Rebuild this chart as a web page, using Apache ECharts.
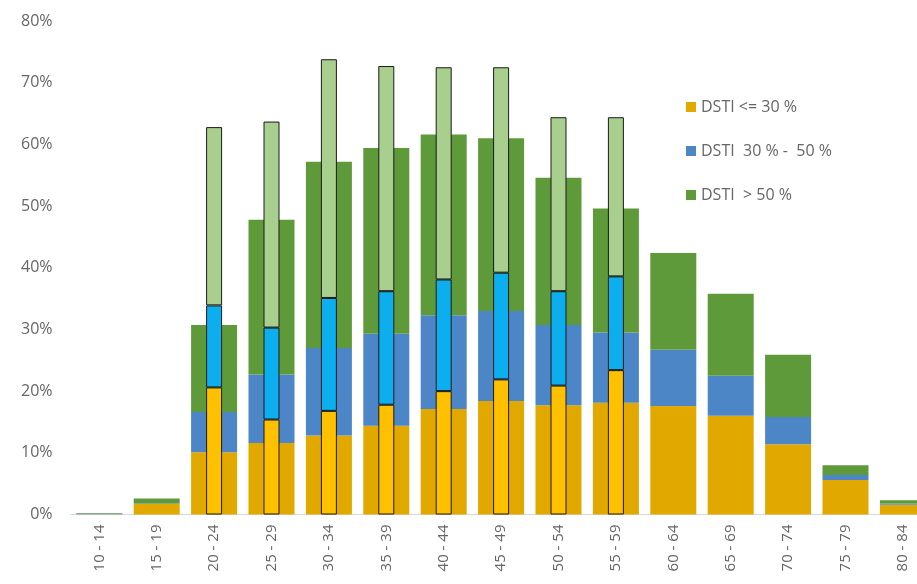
<!DOCTYPE html>
<html>
<head>
<meta charset="utf-8">
<script src="https://cdn.jsdelivr.net/npm/echarts@6/dist/echarts.min.js"></script>
<style>
  html, body { margin: 0; padding: 0; background: #ffffff; }
  #chart { width: 917px; height: 584px; }
</style>
</head>
<body>
<div id="chart"></div>
<script>
// Age groups on the category axis
const ageGroups = ['10 - 14', '15 - 19', '20 - 24', '25 - 29', '30 - 34', '35 - 39', '40 - 44',
  '45 - 49', '50 - 54', '55 - 59', '60 - 64', '65 - 69', '70 - 74', '75 - 79', '80 - 84'];

// Wide stacked bars (share of borrowers, %)
const dstiLow  = [0.05, 1.7, 10.1, 11.6, 12.8, 14.4, 17.1, 18.4, 17.7, 18.1, 17.6, 16.0, 11.4, 5.6, 1.6];
const dstiMid  = [0.1, 0.1, 6.5, 11.1, 14.2, 14.9, 15.2, 14.6, 13.0, 11.4, 9.1, 6.5, 4.4, 0.8, 0.2];
const dstiHigh = [0.1, 0.8, 14.1, 25.1, 30.2, 30.1, 29.3, 28.0, 23.9, 20.1, 15.7, 13.3, 10.1, 1.6, 0.5];

// Narrow outlined bars, 20 - 24 to 55 - 59 only
const narrowLow  = [null, null, 20.6, 15.4, 16.8, 17.8, 20.0, 21.9, 20.9, 23.4, null, null, null, null, null];
const narrowMid  = [null, null, 13.3, 14.9, 18.3, 18.4, 18.1, 17.3, 15.3, 15.2, null, null, null, null, null];
const narrowHigh = [null, null, 28.9, 33.4, 38.7, 36.5, 34.4, 33.3, 28.2, 25.8, null, null, null, null, null];

// Y axis ticks
const yTicks = { min: 0, max: 80, step: 10 };

const legendNames = ['DSTI <= 30 %', 'DSTI  30 % -  50 %', 'DSTI  > 50 %'];

const textColor = '#666666';
const fontFamily = '"Open Sans", "DejaVu Sans", sans-serif';

const wideColors = ['#E1A800', '#4C86C6', '#5F9A3A'];
const narrowColors = ['#FFC000', '#0CAEEE', '#A8CF8D'];

function wideSeries(name, data, color) {
  return {
    name: name, type: 'bar', stack: 'wide', xAxisIndex: 0,
    barWidth: 46, data: data,
    itemStyle: { color: color },
    emphasis: { disabled: true }
  };
}

function narrowSeries(name, data, color) {
  return {
    name: name, type: 'bar', stack: 'narrow', xAxisIndex: 1,
    barWidth: 16, data: data, z: 3,
    itemStyle: { color: color, borderColor: '#1a1a1a', borderWidth: 1 },
    emphasis: { disabled: true }
  };
}

const chart = echarts.init(document.getElementById('chart'), null, { renderer: 'canvas' });

chart.setOption({
  animation: false,
  backgroundColor: '#ffffff',
  textStyle: { fontFamily: fontFamily },
  // the last age group runs past the right edge of the canvas
  grid: { left: 70.6, top: 21, width: 861, height: 493.5, containLabel: false, outerBoundsMode: 'none' },
  legend: {
    data: legendNames,
    orient: 'vertical',
    left: 681,
    top: 94,
    itemWidth: 10,
    itemHeight: 10,
    itemGap: 28,
    icon: 'rect',
    selectedMode: false,
    textStyle: { color: textColor, fontSize: 16, lineHeight: 16, fontFamily: fontFamily, padding: [0, 0, 0, 0] }
  },
  xAxis: [
    {
      type: 'category',
      data: ageGroups,
      axisLine: { show: true, lineStyle: { color: '#D9D9D9', width: 1 } },
      axisTick: { show: false },
      axisLabel: { rotate: 90, margin: 10, color: textColor, fontSize: 15, fontFamily: fontFamily, interval: 0 },
      splitLine: { show: false }
    },
    {
      type: 'category',
      data: ageGroups,
      show: false,
      position: 'bottom'
    }
  ],
  yAxis: {
    type: 'value',
    min: yTicks.min,
    max: yTicks.max,
    interval: yTicks.step,
    axisLine: { show: false },
    axisTick: { show: false },
    splitLine: { show: false },
    axisLabel: { formatter: '{value}%', color: textColor, fontSize: 16, fontFamily: fontFamily, margin: 18 }
  },
  series: [
    wideSeries(legendNames[0], dstiLow, wideColors[0]),
    wideSeries(legendNames[1], dstiMid, wideColors[1]),
    wideSeries(legendNames[2], dstiHigh, wideColors[2]),
    narrowSeries('narrow low', narrowLow, narrowColors[0]),
    narrowSeries('narrow mid', narrowMid, narrowColors[1]),
    narrowSeries('narrow high', narrowHigh, narrowColors[2])
  ]
});
</script>
</body>
</html>
